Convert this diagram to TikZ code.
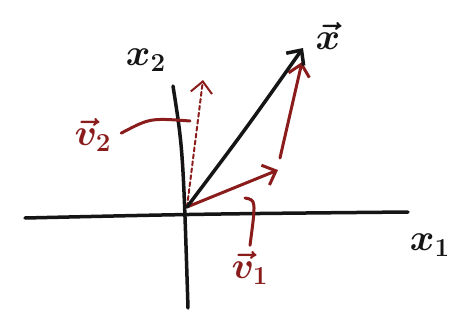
\documentclass[tikz,border=0pt]{standalone}
\usepackage{xcolor}
\definecolor{ink}{HTML}{151515}
\definecolor{penred}{HTML}{8A1C1C}
\usetikzlibrary{arrows.meta,positioning,calc}

\begin{document}
\begin{tikzpicture}[x=1pt,y=-1pt,every node/.style={font=\huge\boldmath,scale=1.8}]
\tikzstyle{axis}=[ink,line width=3.5pt,line cap=round]
\tikzstyle{vec}=[penred,line width=3pt,line cap=round,-{Straight Barb[length=4mm,width=7.5mm]}]
\tikzstyle{lead}=[penred,line width=3pt,line cap=round]
\useasboundingbox[fill=white] (0,0) rectangle (451,322);
% axes
\coordinate (o) at (187,207);
\coordinate (west) at (25,218);
\coordinate (east) at (408,212);
\coordinate (north) at (173,86);
\coordinate (south) at (188,308);
% vector tips
\coordinate (xtip) at (303,48);
\coordinate (atip) at (278,170);
\coordinate (bfoot) at (280,158);
\coordinate (btip) at (302,62);
\coordinate (ctip) at (203,80);
\coordinate (ltwo) at (190,121);
\coordinate (lone) at (245,198);
% labels
\node[ink] (xtwo) at (146,60) {$x_2$};
\node[ink] (xone) at (430,245) {$x_1$};
\node[ink] (xvec) at (328,36) {$\vec{x}$};
\node[penred] (vtwo) at (93,135) {$\vec{v}_2$};
\node[penred] (vone) at (250,268) {$\vec{v}_1$};
\draw[axis] (west) .. controls (200,214) .. (east);
\draw[axis] (north) .. controls (183,150) .. (south);
\draw[vec,dashed,dash pattern=on 4pt off 3pt,line width=2pt] (o) -- (ctip);
\draw[vec] (o) -- (atip);
\draw[vec] (bfoot) -- (btip);
\draw[vec,ink,line width=3.5pt] (o) .. controls (245,130) .. (xtip);
\draw[lead,shorten <=4pt] (vtwo.east) .. controls (150,118) .. (ltwo);
\draw[lead] (lone) .. controls (256,200) .. (vone.north);
\end{tikzpicture}
\end{document}
